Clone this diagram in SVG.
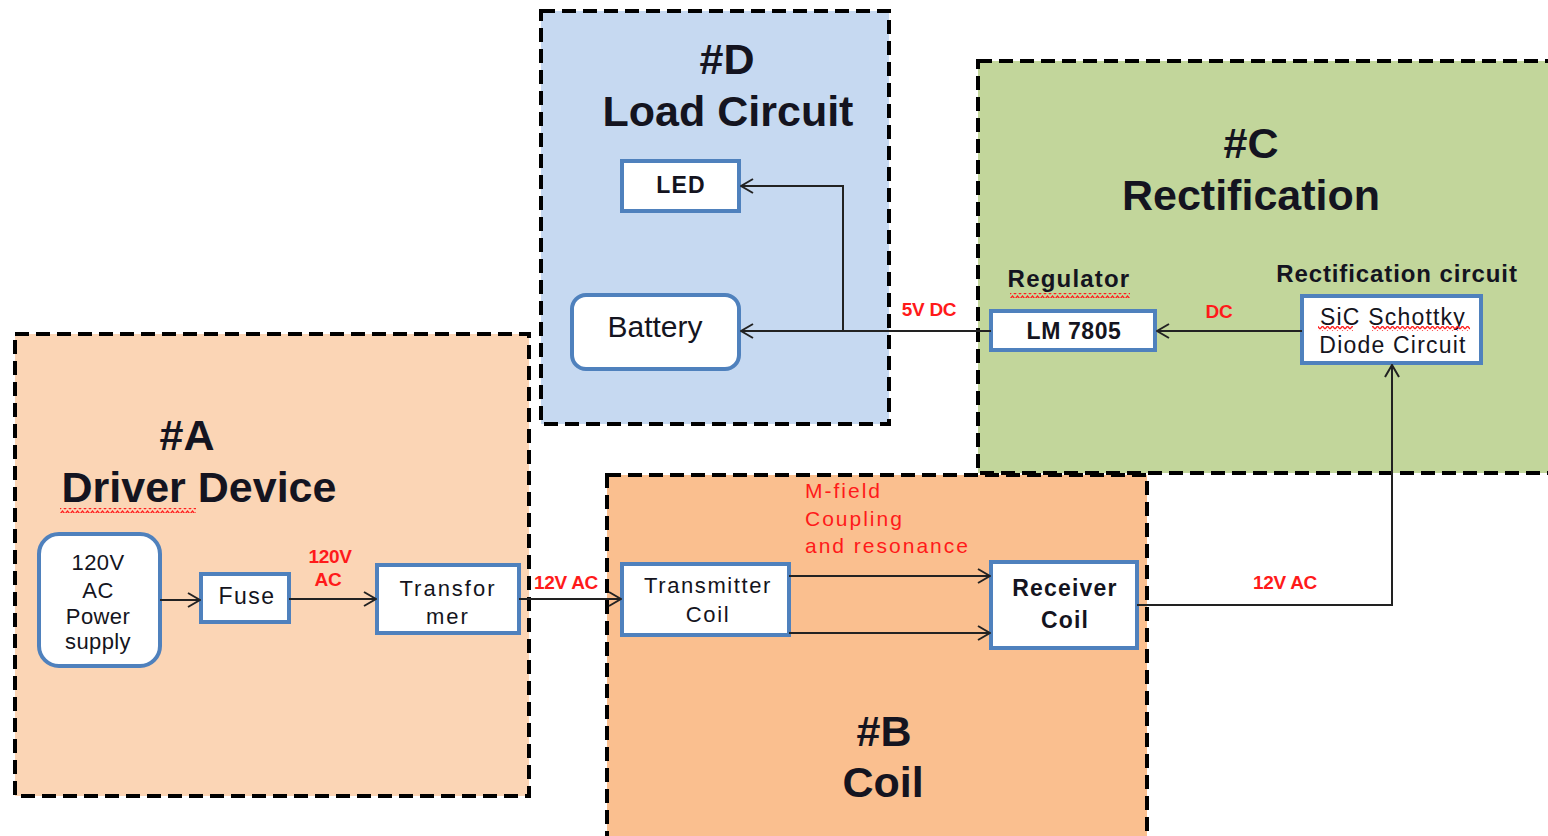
<svg xmlns="http://www.w3.org/2000/svg" width="1548" height="836" viewBox="0 0 1548 836">
<style>
text{font-family:"Liberation Sans",Arial,sans-serif;fill:#141420}
.title{font-size:43px;font-weight:bold;text-anchor:middle}
.region{stroke:#000;stroke-width:4;stroke-dasharray:14 7}
.node{fill:#fff;stroke:#4f81bd;stroke-width:4}
.lbl{font-size:22px;text-anchor:middle;letter-spacing:1.2px}
.b{font-weight:bold}
.red{fill:#ff1a1a;font-size:19px;font-weight:bold;letter-spacing:-0.3px}
.mf{fill:#ff1a1a;font-size:21px;letter-spacing:2px}
.conn path{fill:none;stroke:#222;stroke-width:2}
</style>
<defs>
<marker id="arr" viewBox="0 0 14 16" refX="13" refY="8" markerWidth="14" markerHeight="16" markerUnits="userSpaceOnUse" orient="auto">
<path d="M1,1 L13,8 L1,15" fill="none" stroke="#222" stroke-width="2"/>
</marker>
<pattern id="wavy" width="5" height="5" patternUnits="userSpaceOnUse">
<path d="M0,4 L2.5,1 L5,4" fill="none" stroke="#ff2020" stroke-width="1.3"/>
</pattern>
</defs>
<rect width="1548" height="836" fill="#fff"/>

<g id="regionD">
<rect class="region" x="541" y="11" width="348" height="413" fill="#c6d9f1"/>
<text class="title" x="727" y="74">#D</text>
<text class="title" x="728" y="126">Load Circuit</text>
</g>
<g id="regionC">
<rect class="region" x="978" y="61" width="600" height="412" fill="#c2d69b"/>
<text class="title" x="1251" y="158">#C</text>
<text class="title" x="1251" y="210">Rectification</text>
<text class="lbl b" x="1069" y="287" style="font-size:24px">Regulator</text>
<rect x="1010" y="293" width="120" height="5" fill="url(#wavy)"/>
<text class="lbl b" x="1397" y="282" style="font-size:24px;letter-spacing:0.9px">Rectification circuit</text>
</g>
<g id="regionA">
<rect class="region" x="15" y="334" width="514" height="462" fill="#fbd5b5"/>
<text class="title" x="187" y="450">#A</text>
<text class="title" x="199" y="502">Driver Device</text>
<rect x="60" y="508" width="136" height="5" fill="url(#wavy)"/>
</g>
<g id="regionB">
<rect class="region" x="607" y="475" width="540" height="380" fill="#fabf8f"/>
<text class="title" x="884" y="746">#B</text>
<text class="title" x="883" y="797">Coil</text>
<text class="mf" x="805" y="498">M-field</text>
<text class="mf" x="805" y="526">Coupling</text>
<text class="mf" x="805" y="553">and resonance</text>
</g>

<g id="led">
<rect class="node" x="622" y="161" width="117" height="50"/>
<text class="lbl b" x="681" y="193" style="font-size:23px">LED</text>
</g>
<g id="battery">
<rect class="node" x="572" y="295" width="167" height="74" rx="14"/>
<text class="lbl" x="655" y="337" style="font-size:30px;letter-spacing:0">Battery</text>
</g>
<g id="lm7805">
<rect class="node" x="991" y="311" width="164" height="39"/>
<text class="lbl b" x="1074" y="339" style="font-size:23px;letter-spacing:0.6px">LM 7805</text>
</g>
<g id="sic">
<rect class="node" x="1302" y="296" width="179" height="67"/>
<text class="lbl" x="1393" y="325" style="font-size:23px">SiC Schottky</text>
<text class="lbl" x="1393" y="353" style="font-size:23px">Diode Circuit</text>
<rect x="1318" y="326" width="35" height="5" fill="url(#wavy)"/>
<rect x="1372" y="326" width="98" height="5" fill="url(#wavy)"/>
</g>
<g id="power">
<rect class="node" x="39" y="534" width="121" height="132" rx="20"/>
<text class="lbl" x="98" y="570" style="letter-spacing:0.4px">120V</text>
<text class="lbl" x="98" y="598" style="letter-spacing:0.4px">AC</text>
<text class="lbl" x="98" y="624" style="letter-spacing:0.4px">Power</text>
<text class="lbl" x="98" y="649" style="letter-spacing:0.4px">supply</text>
</g>
<g id="fuse">
<rect class="node" x="201" y="574" width="88" height="48"/>
<text class="lbl" x="247" y="604" style="font-size:23px;letter-spacing:1.5px">Fuse</text>
</g>
<g id="transformer">
<rect class="node" x="377" y="565" width="142" height="68"/>
<text class="lbl" x="448" y="596" style="letter-spacing:2px">Transfor</text>
<text class="lbl" x="448" y="624" style="letter-spacing:2px">mer</text>
</g>
<g id="transmitter">
<rect class="node" x="622" y="564" width="167" height="71"/>
<text class="lbl" x="708" y="593" style="letter-spacing:1.6px">Transmitter</text>
<text class="lbl" x="708" y="622" style="letter-spacing:1.6px">Coil</text>
</g>
<g id="receiver">
<rect class="node" x="991" y="562" width="146" height="86"/>
<text class="lbl b" x="1065" y="596" style="font-size:23px;letter-spacing:1.2px">Receiver</text>
<text class="lbl b" x="1065" y="628" style="font-size:23px;letter-spacing:1.2px">Coil</text>
</g>

<g id="connectors" class="conn">
<path d="M160,600 H200" marker-end="url(#arr)"/>
<path d="M289,599 H376" marker-end="url(#arr)"/>
<path d="M519,599 H621" marker-end="url(#arr)"/>
<path d="M789,576 H990" marker-end="url(#arr)"/>
<path d="M789,633 H990" marker-end="url(#arr)"/>
<path d="M1137,605 H1392 V365" marker-end="url(#arr)"/>
<path d="M1302,331 H1157" marker-end="url(#arr)"/>
<path d="M991,331 H741" marker-end="url(#arr)"/>
<path d="M843,331 V186 H741" marker-end="url(#arr)"/>
</g>

<g id="labels">
<text class="red" x="929" y="316" text-anchor="middle">5V DC</text>
<text class="red" x="1219" y="318" text-anchor="middle">DC</text>
<text class="red" x="1285" y="589" text-anchor="middle">12V AC</text>
<text class="red" x="566" y="589" text-anchor="middle">12V AC</text>
<text class="red" x="330" y="563" text-anchor="middle">120V</text>
<text class="red" x="328" y="586" text-anchor="middle">AC</text>
</g>
</svg>
